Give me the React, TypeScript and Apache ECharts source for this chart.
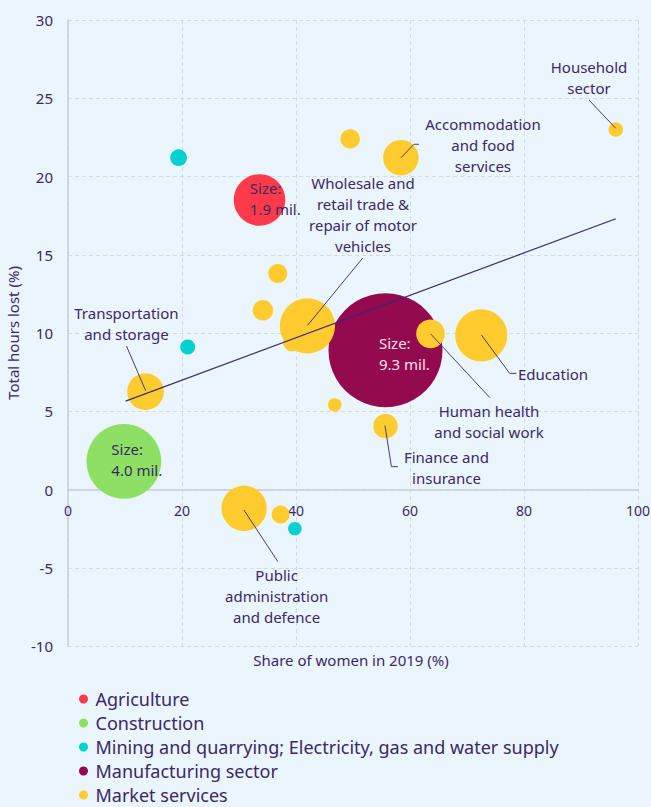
import React, { useEffect, useRef } from "react";
import * as echarts from "echarts";

// ---- Data ----
const categories = [
  "Agriculture",
  "Construction",
  "Mining and quarrying; Electricity, gas and water supply",
  "Manufacturing sector",
  "Market services",
];
const categoryColors = ["#FF3B4B", "#8DE063", "#00D0D0", "#930A4E", "#FFCB2E"];

// [share of women 2019 (%), total hours lost (%), employment (mil.)]
const agriculture = [[33.6, 18.5, 1.9]];
const construction = [[9.8, 1.8, 4.0]];
const mining = [
  [19.4, 21.2, 0.2],
  [21.0, 9.1, 0.16],
  [39.8, -2.5, 0.13],
];
const manufacturing = [[55.7, 8.9, 9.3]];
const marketServices = [
  [49.5, 22.4, 0.27],
  [58.4, 21.2, 0.9],
  [96.1, 23.0, 0.15],
  [36.8, 13.8, 0.26],
  [34.2, 11.45, 0.3],
  [39.3, 9.4, 0.23],
  [42.0, 10.45, 2.18],
  [13.6, 6.25, 0.96],
  [63.6, 9.95, 0.59],
  [72.5, 9.85, 1.94],
  [46.8, 5.4, 0.13],
  [55.7, 4.05, 0.43],
  [30.9, -1.2, 1.47],
  [37.3, -1.6, 0.23],
];
const seriesData = [agriculture, construction, mining, manufacturing, marketServices];

const trendLine = [
  [10.1, 5.65],
  [96.1, 17.3],
];

const xTicks = { min: 0, max: 100, interval: 20 };
const yTicks = { min: -10, max: 30, interval: 5 };

// Annotation texts
const annotationTexts = [
  "Wholesale and\nretail trade &\nrepair of motor\nvehicles",
  "Accommodation\nand food\nservices",
  "Household\nsector",
  "Transportation\nand storage",
  "Education",
  "Human health\nand social work",
  "Finance and\ninsurance",
  "Public\nadministration\nand defence",
  "Size:\n1.9 mil.",
  "Size:\n4.0 mil.",
  "Size:\n9.3 mil.",
];
// anchor (data units), alignment
const annotationAnchors = [
  [51.75, 17.58],
  [72.8, 22.02],
  [91.4, 26.33],
  [10.25, 10.62],
  [78.95, 7.38],
  [73.86, 4.36],
  [66.4, 1.39],
  [36.6, -6.8],
  [31.9, 18.6],
  [7.6, 1.92],
  [54.56, 8.7],
];
const annotationAlign = ["center", "center", "center", "center", "left", "center", "center", "center", "left", "left", "left"];
const annotationLight = [false, false, false, false, false, false, false, false, false, false, true];

// Leader lines (data units)
const leaderLines = [
  [[42.05, 10.5], [51.7, 14.79]],
  [[58.42, 21.2], [60.7, 22.06], [61.58, 22.06]],
  [[91.4, 24.89], [96.09, 23.08]],
  [[10.25, 9.17], [13.63, 6.31]],
  [[72.53, 9.87], [77.49, 7.42], [78.67, 7.42]],
  [[63.63, 9.94], [74.0, 5.87]],
  [[55.61, 4.08], [56.74, 1.46], [57.89, 1.46]],
  [[30.86, -1.31], [36.82, -4.61]],
];

const TEXT = "#3A2868";
const FONT = '"Noto Sans", "Open Sans", sans-serif';
const BG = "#EBF5FD";

const GRID_TOP = 20;
const GRID_BOTTOM = 161;
const CHART_H = 807;

export default function App() {
  const ref = useRef<HTMLDivElement>(null);
  useEffect(() => {
    if (!ref.current) return;
    const chart = echarts.init(ref.current, undefined, { renderer: "svg" });
    const gridH = CHART_H - GRID_TOP - GRID_BOTTOM;
    // pixel distance from grid bottom up to y = 0
    const zeroOffset = (gridH * (0 - yTicks.min)) / (yTicks.max - yTicks.min);
    const bubbleSeries = categories.map((name, i) => ({
      name,
      type: "scatter",
      data: seriesData[i],
      symbol: "circle",
      symbolSize: (v: number[]) => 37.38 * Math.sqrt(v[2]),
      itemStyle: { color: categoryColors[i], opacity: 1 },
      z: 2,
      silent: true,
    }));
    chart.setOption({
      animation: false,
      backgroundColor: BG,
      textStyle: { fontFamily: FONT },
      grid: {
        left: 68,
        right: 13,
        top: GRID_TOP,
        bottom: GRID_BOTTOM,
        containLabel: false,
        outerBoundsMode: "none",
      },
      legend: {
        orient: "vertical",
        left: 79,
        top: 690,
        padding: 0,
        icon: "circle",
        itemWidth: 14,
        itemHeight: 9,
        itemGap: 6,
        data: categories,
        textStyle: { color: TEXT, fontSize: 18, fontFamily: FONT },
      },
      xAxis: {
        type: "value",
        position: "bottom",
        offset: -zeroOffset,
        min: xTicks.min,
        max: xTicks.max,
        interval: xTicks.interval,
        axisLine: { show: true, onZero: false, lineStyle: { color: "#C9CDD3", width: 1.5 } },
        axisTick: { show: false },
        axisLabel: { color: TEXT, fontSize: 14, margin: 14, fontFamily: FONT },
        splitLine: { show: true, lineStyle: { color: "#D5D9E0", type: [4, 3], width: 1 } },
      },
      yAxis: {
        type: "value",
        min: yTicks.min,
        max: yTicks.max,
        interval: yTicks.interval,
        name: "Total hours lost (%)",
        nameLocation: "middle",
        nameGap: 46,
        nameTextStyle: { color: TEXT, fontSize: 15, fontFamily: FONT },
        axisLine: { show: true, onZero: false, lineStyle: { color: "#C9CDD3", width: 1.5 } },
        axisTick: { show: false },
        axisLabel: { color: TEXT, fontSize: 15, margin: 15, fontFamily: FONT },
        splitLine: { show: true, lineStyle: { color: "#D5D9E0", type: [4, 3], width: 1 } },
      },
      graphic: [
        {
          type: "text",
          x: 351,
          y: 660,
          style: {
            text: "Share of women in 2019 (%)",
            fill: TEXT,
            fontSize: 15,
            fontFamily: FONT,
            align: "center",
            verticalAlign: "middle",
          },
        },
      ],
      series: [
        ...bubbleSeries,
        {
          type: "lines",
          coordinateSystem: "cartesian2d",
          polyline: true,
          silent: true,
          z: 4,
          lineStyle: { color: "#4A3A7A", width: 1, opacity: 1 },
          data: leaderLines.map((coords) => ({ coords })),
        },
        {
          type: "line",
          data: trendLine,
          symbol: "none",
          silent: true,
          z: 5,
          lineStyle: { color: "#3A2870", width: 1.2 },
        },
        {
          type: "custom",
          silent: true,
          z: 6,
          data: annotationAnchors.map((a, i) => [a[0], a[1], i]),
          renderItem: (params: any, api: any) => {
            const idx = api.value(2);
            const p = api.coord([api.value(0), api.value(1)]);
            return {
              type: "text",
              x: p[0],
              y: p[1],
              style: {
                text: annotationTexts[idx],
                fill: annotationLight[idx] ? "#F6E3EC" : TEXT,
                fontSize: 15,
                fontFamily: FONT,
                align: annotationAlign[idx],
                verticalAlign: "middle",
                lineHeight: 21,
              },
            };
          },
        },
      ],
    });
    return () => chart.dispose();
  }, []);
  return (
    <div
      ref={ref}
      style={{ position: "fixed", left: 0, top: 0, width: 651, height: 807, background: BG }}
    />
  );
}
